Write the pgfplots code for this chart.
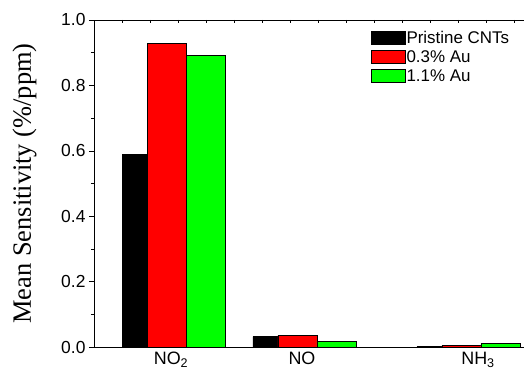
\documentclass[border=0pt]{standalone}
\usepackage{fontspec}
\setmainfont{Liberation Sans}
\newfontfamily\timesf{Liberation Serif}
\usepackage{pgfplots}
\pgfplotsset{compat=1.18}
\begin{document}
\begin{tikzpicture}
\begin{axis}[
  scale only axis, width=430bp, height=327bp,
  xmin=94, xmax=524, ymin=0, ymax=1,
  axis x line=box, axis y line*=left,
  xtick pos=upper, xticklabel pos=lower,
  xtick={171,302,478},
  xticklabels={NO\textsubscript{2},NO,NH\textsubscript{3}},
  major x tick style={draw=none},
  minor xtick={122,150,178,206,234,262,290,318,346,374,402,430,458,486,514},
  minor x tick style={yshift=-3bp},
  x tick label style={font=\fontsize{18}{19}\selectfont, yshift=3.5bp},
  ytick={0,0.2,0.4,0.6,0.8,1.0},
  minor ytick={0.1,0.3,0.5,0.7,0.9},
  y tick label style={font=\fontsize{17.5}{18}\selectfont},
  yticklabel style={/pgf/number format/fixed, /pgf/number format/fixed zerofill, /pgf/number format/precision=1},
  /pgf/number format/assume math mode=true,
  tick align=outside,
  major tick length=5bp, minor tick length=3bp,
  tick style={black, thin},
  axis line style={black, thin},
  ylabel={\timesf\fontsize{26.5}{28}\selectfont Mean Sensitivity (\%/ppm)},
  ylabel style={at={(rel axis cs:0,0.5)}, anchor=south, yshift=54bp},
  ybar, bar shift=0pt,
  legend style={at={(0.644,0.968)}, anchor=north west, draw=none, fill=none,
    font=\fontsize{17}{17}\selectfont, inner sep=0pt, row sep=4.5bp,
    nodes={inner sep=0.6bp}},
  legend cell align=left,
  legend image code/.code={\draw[#1, draw=black] (0bp,-6.5bp) rectangle (34bp,6.5bp);},
]
\coordinate (O) at (rel axis cs:0,0);
\addplot[fill=black, draw=black, line width=0.5bp, bar width=25] coordinates {(135,0.589) (265.5,0.032) (429.5,0.001)};
\addplot[fill=red, draw=black, line width=0.8bp, bar width=39] coordinates {(167,0.927) (297.5,0.036) (461.5,0.005)};
\addplot[fill={rgb,255:red,0;green,255;blue,0}, draw=black, line width=0.8bp, bar width=39] coordinates {(206,0.891) (336.5,0.018) (500.5,0.010)};
\legend{Pristine CNTs, 0.3\% Au, 1.1\% Au}
\end{axis}
\pgfresetboundingbox
\path[use as bounding box] ([shift={(-94bp,-23bp)}]O) rectangle ([shift={(430bp,347bp)}]O);
\end{tikzpicture}
\end{document}
